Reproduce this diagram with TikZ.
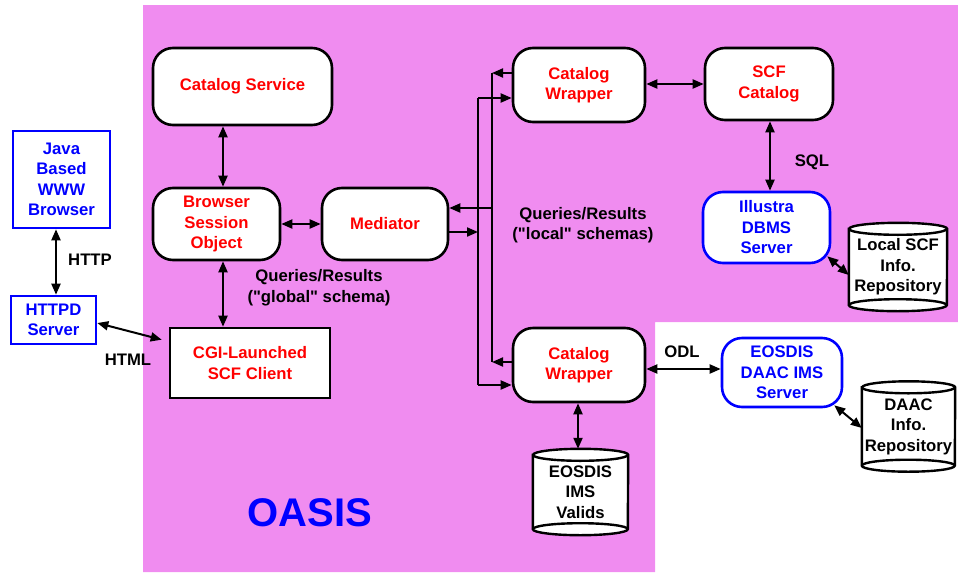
\documentclass[tikz,border=0pt]{standalone}
\usepackage{fontspec}
\newfontfamily\arialf{Liberation Sans}
\usetikzlibrary{arrows.meta,backgrounds}
\definecolor{pinkbg}{RGB}{240,140,240}
\definecolor{myred}{RGB}{255,0,0}
\definecolor{myblue}{RGB}{0,0,255}
\tikzset{
 base/.style={font=\arialf\fontsize{16.7}{20.5}\selectfont\bfseries, align=center, inner sep=0pt},
 rbox/.style={base, draw=black, line width=2.6pt, fill=white, rounded corners=20pt, text=myred},
 bbox/.style={base, draw=myblue, line width=2.6pt, fill=white, rounded corners=20pt, text=myblue},
 bsq/.style={base, draw=myblue, line width=2.6pt, fill=white, text=myblue},
 rsq/.style={base, draw=black, line width=2.6pt, fill=white, text=myred},
 cylbox/.style={base, text=black},
 lbl/.style={base, text=black},
 conn/.style={line width=2pt},
 cylline/.style={line width=2.4pt},
}
\newcommand\drawcyl[2]{%
 \draw[cylline, fill=white] ([yshift=-6pt]#1.north west) -- ([yshift=6pt]#1.south west)
   arc[start angle=180,end angle=360,x radius=#2pt,y radius=6pt]
   -- ([yshift=-6pt]#1.north east)
   arc[start angle=0,end angle=180,x radius=#2pt,y radius=6pt] -- cycle;
 \draw[cylline] ([yshift=-6pt]#1.north west) arc[start angle=180,end angle=360,x radius=#2pt,y radius=6pt];
 \draw[cylline] ([yshift=6pt]#1.south west) arc[start angle=180,end angle=0,x radius=#2pt,y radius=6pt];
}
\begin{document}
\begin{tikzpicture}[x=1pt,y=-1pt,>={Triangle[length=11pt,width=9pt]}]
\useasboundingbox (0,0) rectangle (958,573);
\begin{scope}[on background layer]
\fill[pinkbg] (143,5) -- (958,5) -- (958,322) -- (655,322) -- (655,572) -- (143,572) -- cycle;
\end{scope}

% boxes
\node[rbox, minimum width=179pt, minimum height=77pt] (cs) at (242.5,86.5) {Catalog Service};
\node[rbox, minimum width=127pt, minimum height=72pt] (bso) at (216.5,224) {Browser\\Session\\Object};
\node[rbox, minimum width=126pt, minimum height=72pt] (med) at (385,224) {Mediator};
\node[rbox, minimum width=132pt, minimum height=74pt] (cw1) at (579,85) {Catalog\\Wrapper};
\node[rbox, minimum width=128pt, minimum height=72pt] (scf) at (769,84) {SCF\\Catalog};
\node[bbox, minimum width=127pt, minimum height=71pt] (ill) at (766.5,227.5) {Illustra\\DBMS\\Server};
\node[rbox, minimum width=132pt, minimum height=74pt] (cw2) at (579,365) {Catalog\\Wrapper};
\node[bbox, minimum width=120pt, minimum height=69pt] (daac) at (782,372.5) {EOSDIS\\DAAC IMS\\Server};
\node[rsq, minimum width=160pt, minimum height=70pt] (cgi) at (250,363) {CGI-Launched\\SCF Client};
\node[bsq, minimum width=97pt, minimum height=97pt] (java) at (61.5,179.5) {Java\\Based\\WWW\\Browser};
\node[bsq, minimum width=85pt, minimum height=48pt] (httpd) at (53.5,320) {HTTPD\\Server};

% cylinders
\node[cylbox, minimum width=98pt, minimum height=88pt] (lscf) at (898,267) {Local SCF\\Info.\\Repository};
\node[cylbox, minimum width=93pt, minimum height=90pt] (drep) at (908.5,426.5) {DAAC\\Info.\\Repository};
\node[cylbox, minimum width=95pt, minimum height=86pt] (val) at (580.5,492) {EOSDIS\\IMS\\Valids};
\begin{scope}[on background layer]
\drawcyl{lscf}{49}
\drawcyl{drep}{46.5}
\drawcyl{val}{47.5}
\end{scope}

% labels
\node[lbl] (lhttp) at (90,260) {HTTP};
\node[lbl] (lhtml) at (128,360) {HTML};
\node[lbl] (lglob) at (319,287.5) {Queries/Results\\("global" schema)};
\node[lbl] (lloc) at (583,225) {Queries/Results\\("local" schemas)};
\node[lbl] (lsql) at (812,162) {SQL};
\node[lbl] (lodl) at (682,352) {ODL};
\node[base, text=myblue, font=\arialf\fontsize{40}{44}\selectfont\bfseries] (oasis) at (310,513) {OASIS};

% connectors
\draw[conn,<->] ([xshift=6.5pt]bso.north) -- ([xshift=6.5pt]bso.north |- cs.south);
\draw[conn,<->] ([xshift=6.5pt]bso.south) -- ([xshift=6.5pt]bso.south |- cgi.north);
\draw[conn,<->] (bso.east) -- (med.west);
\draw[conn,<->] ([xshift=2.5pt]httpd.north) -- ([xshift=2.5pt]httpd.north |- java.south);
\draw[conn,<->] ([yshift=-3pt]httpd.east) -- ([shift={(-7pt,-13pt)}]cgi.north west);

\coordinate (jo) at (478,232);
\coordinate (lt) at (478,98);
\coordinate (lb) at (478,385);
\coordinate (rt) at (492,73);
\coordinate (rb) at (492,362);
\coordinate (ji) at (492,208);
\draw[conn,->] (med.east |- jo) -- (jo);
\draw[conn] (lt) -- (lb);
\draw[conn,->] (lt) -- (cw1.west |- lt);
\draw[conn,->] (lb) -- (cw2.west |- lb);
\draw[conn,->] (cw1.west |- rt) -- (rt);
\draw[conn,->] (cw2.west |- rb) -- (rb);
\draw[conn] (rt) -- (rb);
\draw[conn,->] (ji) -- (med.east |- ji);

\draw[conn,<->] (cw1.east |- scf.west) -- (scf.west);
\draw[conn,<->] ([xshift=1pt]scf.south) -- ([xshift=1pt]scf.south |- ill.north);
\draw[conn,<->] ([shift={(-4pt,8pt)}]ill.south east) -- (lscf.west |- 0,275);
\draw[conn,<->] (cw2.east |- 0,369) -- (daac.west |- 0,369);
\draw[conn,<->] ([shift={(-9pt,3pt)}]daac.south east) -- (drep.west |- 0,428);
\draw[conn,<->] ([xshift=-1pt]cw2.south) -- ([xshift=-1pt]cw2.south |- val.north);
\end{tikzpicture}
\end{document}
